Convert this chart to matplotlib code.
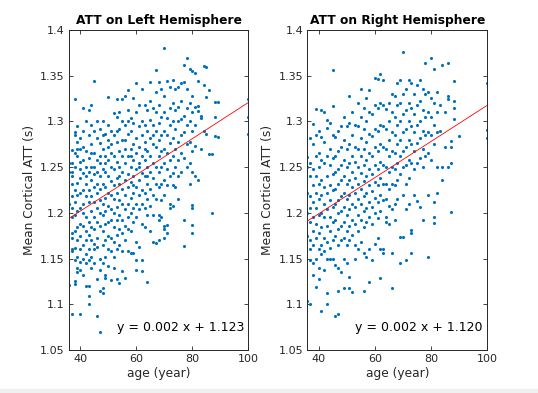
import numpy as np
import matplotlib
matplotlib.use("Agg")
import matplotlib.pyplot as plt
from matplotlib.patches import Rectangle

# ages (years) and mean cortical ATT values, grouped per age
age_left = [36, 37, 38, 39, 40, 41, 42, 43, 44, 45, 46, 47, 48, 49, 50,
            51, 52, 53, 54, 55, 56, 57, 58, 59, 60, 61, 62, 63, 64, 65,
            66, 67, 68, 69, 70, 71, 72, 73, 74, 75, 76, 77, 78, 79, 80,
            81, 82, 83, 84, 85, 86, 87, 88, 89, 100]
att_left = [
    [1.255, 1.121, 1.245, 1.210],
    [1.269, 1.245, 1.232, 1.218, 1.205, 1.196, 1.178, 1.172, 1.160, 1.158, 1.089, 1.255, 1.240],
    [1.325, 1.288, 1.265, 1.250, 1.225, 1.212, 1.198, 1.180, 1.162, 1.148, 1.125, 1.122, 1.285],
    [1.295, 1.278, 1.262, 1.233, 1.220, 1.202, 1.184, 1.170, 1.152, 1.140, 1.135, 1.270],
    [1.282, 1.270, 1.248, 1.238, 1.222, 1.205, 1.188, 1.175, 1.160, 1.146, 1.138, 1.089, 1.256],
    [1.315, 1.290, 1.272, 1.244, 1.225, 1.210, 1.200, 1.186, 1.165, 1.150, 1.132, 1.258],
    [1.300, 1.268, 1.250, 1.232, 1.218, 1.196, 1.180, 1.170, 1.155, 1.145, 1.120, 1.240],
    [1.312, 1.285, 1.260, 1.245, 1.225, 1.212, 1.190, 1.176, 1.160, 1.148, 1.109, 1.100, 1.120],
    [1.318, 1.296, 1.275, 1.250, 1.236, 1.218, 1.202, 1.185, 1.170, 1.152, 1.140, 1.265],
    [1.344, 1.290, 1.266, 1.242, 1.228, 1.212, 1.195, 1.182, 1.166, 1.160, 1.145, 1.250],
    [1.300, 1.282, 1.258, 1.245, 1.222, 1.205, 1.190, 1.172, 1.163, 1.128, 1.087, 1.232],
    [1.292, 1.276, 1.262, 1.240, 1.226, 1.214, 1.200, 1.186, 1.150, 1.138, 1.070, 1.115, 1.255],
    [1.301, 1.270, 1.248, 1.232, 1.210, 1.198, 1.180, 1.165, 1.145, 1.112, 1.118, 1.285],
    [1.286, 1.262, 1.245, 1.228, 1.216, 1.202, 1.188, 1.170, 1.152, 1.132, 1.129, 1.255],
    [1.327, 1.296, 1.272, 1.258, 1.240, 1.222, 1.208, 1.190, 1.175, 1.160, 1.142, 1.280],
    [1.290, 1.275, 1.250, 1.235, 1.220, 1.204, 1.192, 1.172, 1.158, 1.127, 1.265],
    [1.309, 1.285, 1.262, 1.248, 1.230, 1.215, 1.200, 1.185, 1.168, 1.152, 1.140],
    [1.324, 1.305, 1.278, 1.256, 1.238, 1.222, 1.206, 1.192, 1.176, 1.160, 1.128, 1.290],
    [1.310, 1.292, 1.268, 1.250, 1.232, 1.214, 1.198, 1.182, 1.165, 1.123, 1.240],
    [1.325, 1.300, 1.280, 1.262, 1.245, 1.226, 1.210, 1.192, 1.178, 1.158, 1.136],
    [1.328, 1.296, 1.270, 1.255, 1.236, 1.220, 1.204, 1.186, 1.170, 1.129, 1.280],
    [1.334, 1.312, 1.286, 1.262, 1.242, 1.228, 1.210, 1.195, 1.182, 1.158, 1.300],
    [1.304, 1.290, 1.270, 1.250, 1.234, 1.216, 1.200, 1.180, 1.156, 1.262],
    [1.326, 1.298, 1.275, 1.258, 1.240, 1.222, 1.205, 1.190, 1.156, 1.230],
    [1.342, 1.310, 1.282, 1.265, 1.248, 1.228, 1.210, 1.195, 1.168, 1.148, 1.138],
    [1.318, 1.295, 1.272, 1.255, 1.236, 1.220, 1.204, 1.163, 1.250],
    [1.335, 1.300, 1.285, 1.262, 1.244, 1.225, 1.210, 1.188, 1.148, 1.136],
    [1.318, 1.296, 1.278, 1.258, 1.240, 1.222, 1.205, 1.185, 1.270],
    [1.312, 1.290, 1.268, 1.250, 1.232, 1.215, 1.198, 1.124, 1.240],
    [1.343, 1.322, 1.302, 1.282, 1.262, 1.245, 1.226, 1.208, 1.180],
    [1.315, 1.296, 1.275, 1.255, 1.238, 1.220, 1.198, 1.168, 1.285],
    [1.356, 1.332, 1.310, 1.290, 1.272, 1.250, 1.232, 1.215, 1.167],
    [1.343, 1.318, 1.298, 1.280, 1.262, 1.245, 1.228, 1.198, 1.192, 1.170],
    [1.335, 1.305, 1.285, 1.268, 1.250, 1.232, 1.214, 1.195],
    [1.380, 1.328, 1.310, 1.290, 1.270, 1.255, 1.236, 1.186, 1.182, 1.172, 1.220],
    [1.344, 1.304, 1.285, 1.265, 1.248, 1.230, 1.187, 1.178],
    [1.338, 1.315, 1.296, 1.276, 1.258, 1.240, 1.205, 1.210],
    [1.345, 1.320, 1.300, 1.282, 1.262, 1.244, 1.208, 1.230],
    [1.335, 1.312, 1.292, 1.270, 1.250, 1.228],
    [1.338, 1.316, 1.300, 1.278, 1.258, 1.240, 1.215],
    [1.342, 1.322, 1.303, 1.285, 1.265, 1.245],
    [1.362, 1.343, 1.306, 1.288, 1.260, 1.192, 1.164],
    [1.369, 1.335, 1.315, 1.296, 1.275, 1.250],
    [1.357, 1.320, 1.300, 1.278, 1.255, 1.232],
    [1.355, 1.328, 1.310, 1.290, 1.268, 1.245, 1.209, 1.205, 1.187, 1.178],
    [1.353, 1.316, 1.296, 1.273, 1.240],
    [1.344, 1.317, 1.311, 1.236],
    [1.306, 1.304, 1.270],
    [1.361, 1.340, 1.290],
    [1.360, 1.327, 1.286],
    [1.334, 1.264],
    [1.264, 1.200],
    [1.321, 1.305, 1.284],
    [1.321, 1.283],
    [1.325, 1.305, 1.286],
]

age_right = [36, 37, 38, 39, 40, 41, 42, 43, 44, 45, 46, 47, 48, 49, 50,
             51, 52, 53, 54, 55, 56, 57, 58, 59, 60, 61, 62, 63, 64, 65,
             66, 67, 68, 69, 70, 71, 72, 73, 74, 75, 76, 77, 78, 79, 80,
             81, 82, 83, 84, 85, 86, 87, 88, 90, 100]
att_right = [
    [1.261, 1.250, 1.222, 1.200, 1.175, 1.104],
    [1.255, 1.240, 1.218, 1.205, 1.190, 1.170, 1.160, 1.148, 1.100, 1.282],
    [1.297, 1.275, 1.248, 1.230, 1.212, 1.195, 1.180, 1.165, 1.145, 1.132],
    [1.314, 1.285, 1.262, 1.240, 1.222, 1.205, 1.188, 1.172, 1.150, 1.119],
    [1.290, 1.265, 1.250, 1.232, 1.215, 1.198, 1.178, 1.160, 1.140, 1.128],
    [1.312, 1.283, 1.258, 1.236, 1.220, 1.200, 1.185, 1.165, 1.155, 1.093],
    [1.310, 1.278, 1.255, 1.228, 1.210, 1.195, 1.172, 1.158, 1.138],
    [1.302, 1.293, 1.262, 1.240, 1.222, 1.204, 1.186, 1.168, 1.150, 1.112, 1.100],
    [1.298, 1.270, 1.252, 1.230, 1.214, 1.196, 1.180, 1.162, 1.149],
    [1.356, 1.317, 1.285, 1.260, 1.242, 1.225, 1.206, 1.190, 1.170, 1.150],
    [1.283, 1.262, 1.245, 1.226, 1.210, 1.192, 1.175, 1.143, 1.087],
    [1.290, 1.268, 1.248, 1.232, 1.214, 1.200, 1.182, 1.165, 1.140, 1.114, 1.089],
    [1.295, 1.272, 1.252, 1.236, 1.218, 1.202, 1.186, 1.170, 1.135],
    [1.305, 1.280, 1.258, 1.240, 1.222, 1.206, 1.190, 1.172, 1.150, 1.118],
    [1.295, 1.270, 1.250, 1.232, 1.215, 1.198, 1.180, 1.165, 1.145],
    [1.328, 1.298, 1.275, 1.255, 1.236, 1.220, 1.204, 1.186, 1.170, 1.130, 1.118],
    [1.310, 1.285, 1.262, 1.245, 1.228, 1.210, 1.192, 1.176, 1.113],
    [1.296, 1.272, 1.256, 1.238, 1.222, 1.206, 1.188, 1.165, 1.150],
    [1.320, 1.295, 1.270, 1.250, 1.232, 1.215, 1.198, 1.180, 1.160],
    [1.335, 1.305, 1.282, 1.262, 1.244, 1.226, 1.210, 1.192, 1.168],
    [1.315, 1.292, 1.270, 1.252, 1.235, 1.218, 1.202, 1.185, 1.156, 1.114],
    [1.326, 1.300, 1.278, 1.258, 1.240, 1.222, 1.205, 1.190, 1.152],
    [1.334, 1.310, 1.286, 1.266, 1.248, 1.230, 1.212, 1.195, 1.160, 1.124],
    [1.308, 1.284, 1.262, 1.242, 1.224, 1.206, 1.188, 1.148],
    [1.347, 1.318, 1.292, 1.272, 1.252, 1.234, 1.216, 1.200, 1.166],
    [1.346, 1.315, 1.290, 1.268, 1.248, 1.230, 1.212, 1.194, 1.172],
    [1.352, 1.320, 1.296, 1.275, 1.256, 1.238, 1.220, 1.202, 1.160, 1.129],
    [1.345, 1.318, 1.295, 1.272, 1.252, 1.232, 1.214, 1.160, 1.156],
    [1.314, 1.292, 1.270, 1.250, 1.232, 1.215, 1.196, 1.190],
    [1.320, 1.300, 1.280, 1.262, 1.245, 1.226, 1.208, 1.188],
    [1.330, 1.310, 1.288, 1.268, 1.250, 1.232, 1.204, 1.156, 1.118],
    [1.328, 1.305, 1.285, 1.266, 1.248, 1.230, 1.210, 1.192],
    [1.342, 1.318, 1.296, 1.275, 1.255, 1.236, 1.215],
    [1.345, 1.320, 1.300, 1.280, 1.262, 1.242, 1.174, 1.145],
    [1.376, 1.330, 1.308, 1.288, 1.268, 1.250, 1.220, 1.174],
    [1.335, 1.312, 1.292, 1.272, 1.252, 1.232, 1.204, 1.148],
    [1.345, 1.320, 1.300, 1.280, 1.258, 1.238, 1.210],
    [1.342, 1.315, 1.295, 1.275, 1.255, 1.181, 1.178, 1.156],
    [1.330, 1.308, 1.288, 1.268, 1.248, 1.219],
    [1.340, 1.318, 1.296, 1.276, 1.255, 1.213],
    [1.345, 1.322, 1.300, 1.282, 1.260, 1.206],
    [1.335, 1.312, 1.290, 1.270, 1.250, 1.192],
    [1.364, 1.330, 1.305, 1.285, 1.262],
    [1.332, 1.310, 1.288, 1.265, 1.220, 1.152],
    [1.369, 1.326, 1.305, 1.285, 1.258],
    [1.357, 1.320, 1.296, 1.275, 1.212, 1.195, 1.189],
    [1.332, 1.310, 1.288, 1.250, 1.222],
    [1.318, 1.290],
    [1.362, 1.250, 1.236],
    [1.310, 1.272],
    [1.364, 1.328, 1.324, 1.250],
    [1.279, 1.272, 1.254, 1.201],
    [1.344, 1.322, 1.315, 1.303],
    [1.284],
    [1.342, 1.291, 1.282],
]

# linear fit shown on each panel (slope, intercept)
fit_left = (0.00198, 1.1227)
fit_right = (0.00198, 1.1197)

titles = ["ATT on Left Hemisphere", "ATT on Right Hemisphere"]

dot_color = "#0072BD"
ax_color = "#262626"

plt.rcParams["font.family"] = "DejaVu Sans"

fig = plt.figure(figsize=(5.38, 3.93), dpi=100)
fig.patches.append(Rectangle((0, 0), 1, 4 / 393, transform=fig.transFigure,
                             color="#f0f0f0", zorder=-1))

axes_pos = [[0.1283, 0.1094, 0.3333, 0.8143],
            [0.5712, 0.1094, 0.3346, 0.8143]]
panels = [(age_left, att_left, fit_left), (age_right, att_right, fit_right)]

for pos, (ages, atts, fit), title in zip(axes_pos, panels, titles):
    ax = fig.add_axes(pos)
    x = np.concatenate([[a] * len(v) for a, v in zip(ages, atts)])
    y = np.concatenate(atts)
    ax.scatter(x, y, s=5, color=dot_color, linewidths=0, zorder=2)

    xs = np.array([36, 100])
    ax.plot(xs, fit[0] * xs + fit[1], color="red", lw=0.6, zorder=3)

    ax.set_xlim(36, 100)
    ax.set_ylim(1.05, 1.4)
    ax.set_xticks([40, 60, 80, 100])
    ticks = np.round(np.arange(1.05, 1.401, 0.05), 2)
    ax.set_yticks(ticks)
    ax.set_yticklabels([f"{v:g}" for v in ticks])
    ax.tick_params(direction="in", length=3, width=0.6, top=True, right=True,
                   labelsize=8, colors=ax_color, pad=3)
    for sp in ax.spines.values():
        sp.set_color(ax_color)
        sp.set_linewidth(0.7)

    ax.set_title(title, fontsize=8.8, fontweight="bold", pad=4)
    ax.set_xlabel("age (year)", fontsize=8.8, color=ax_color, labelpad=2)
    ax.set_ylabel("Mean Cortical ATT (s)", fontsize=8.8, color=ax_color, labelpad=3)
    ax.text(53, 1.075, f"y = {fit[0]:.3f} x + {fit[1]:.3f}", fontsize=9,
            color="black", va="center")

fig.savefig("out.png", dpi=100)
